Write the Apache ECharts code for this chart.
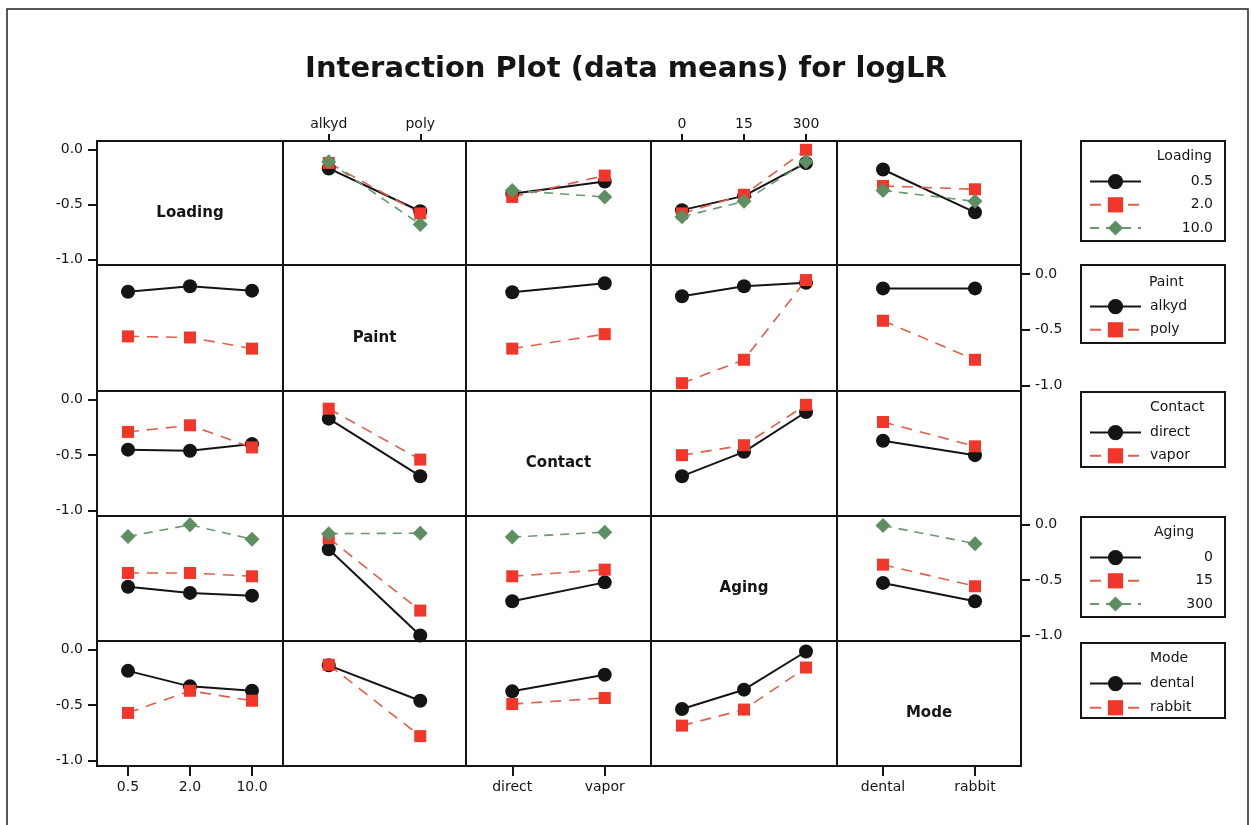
<!DOCTYPE html>
<html>
<head>
<meta charset="utf-8">
<script src="https://cdn.jsdelivr.net/npm/echarts@6/dist/echarts.min.js"></script>
<style>
html,body{margin:0;padding:0;background:#fff;}
#chart{width:1252px;height:825px;}
</style>
</head>
<body>
<div id="chart"></div>
<script>
// ---------- factors and levels ----------
const factors = ['Loading', 'Paint', 'Contact', 'Aging', 'Mode'];
const loadingLevels = ['0.5', '2.0', '10.0'];
const paintLevels = ['alkyd', 'poly'];
const contactLevels = ['direct', 'vapor'];
const agingLevels = ['0', '15', '300'];
const modeLevels = ['dental', 'rabbit'];
const yTickValues = [0, -0.5, -1.0];

// ---------- data means (rows = trace levels, columns = x levels) ----------
// trace Loading
const loadingByPaint   = [[-0.17, -0.56], [-0.12, -0.58], [-0.11, -0.68]];
const loadingByContact = [[-0.40, -0.29], [-0.43, -0.235], [-0.37, -0.43]];
const loadingByAging   = [[-0.55, -0.42, -0.12], [-0.58, -0.41, 0.0], [-0.61, -0.47, -0.11]];
const loadingByMode    = [[-0.18, -0.57], [-0.33, -0.36], [-0.37, -0.47]];
// trace Paint
const paintByLoading = [[-0.16, -0.11, -0.15], [-0.56, -0.57, -0.67]];
const paintByContact = [[-0.165, -0.084], [-0.67, -0.54]];
const paintByAging   = [[-0.20, -0.11, -0.08], [-0.98, -0.77, -0.055]];
const paintByMode    = [[-0.13, -0.13], [-0.42, -0.77]];
// trace Contact
const contactByLoading = [[-0.45, -0.46, -0.40], [-0.29, -0.23, -0.43]];
const contactByPaint   = [[-0.17, -0.69], [-0.08, -0.54]];
const contactByAging   = [[-0.69, -0.47, -0.11], [-0.50, -0.41, -0.045]];
const contactByMode    = [[-0.37, -0.50], [-0.20, -0.42]];
// trace Aging
const agingByLoading = [[-0.56, -0.615, -0.64], [-0.435, -0.435, -0.465], [-0.105, 0.0, -0.13]];
const agingByPaint   = [[-0.22, -1.0], [-0.12, -0.775], [-0.08, -0.075]];
const agingByContact = [[-0.69, -0.52], [-0.465, -0.405], [-0.11, -0.066]];
const agingByMode    = [[-0.525, -0.69], [-0.36, -0.555], [-0.006, -0.17]];
// trace Mode
const modeByLoading = [[-0.19, -0.33, -0.37], [-0.57, -0.37, -0.46]];
const modeByPaint   = [[-0.14, -0.46], [-0.135, -0.78]];
const modeByContact = [[-0.375, -0.225], [-0.49, -0.435]];
const modeByAging   = [[-0.535, -0.36, -0.015], [-0.685, -0.54, -0.16]];

// ---------- assembly ----------
const levels = { Loading: loadingLevels, Paint: paintLevels, Contact: contactLevels, Aging: agingLevels, Mode: modeLevels };
const panelData = {
  Loading: { Paint: loadingByPaint, Contact: loadingByContact, Aging: loadingByAging, Mode: loadingByMode },
  Paint:   { Loading: paintByLoading, Contact: paintByContact, Aging: paintByAging, Mode: paintByMode },
  Contact: { Loading: contactByLoading, Paint: contactByPaint, Aging: contactByAging, Mode: contactByMode },
  Aging:   { Loading: agingByLoading, Paint: agingByPaint, Contact: agingByContact, Mode: agingByMode },
  Mode:    { Loading: modeByLoading, Paint: modeByPaint, Contact: modeByContact, Aging: modeByAging }
};

const FONT = 'DejaVu Sans';
const colX = [97, 283, 466, 651, 837, 1021];
const rowY = [141, 265, 391, 516, 641, 766];

const styles = [
  { symbol: 'circle', size: 14, color: '#141414', line: '#141414', width: 2, type: 'solid' },
  { symbol: 'rect', size: 12, color: '#f2372a', line: '#e0604c', width: 1.6, type: [11, 8] },
  { symbol: 'diamond', size: 15, color: '#5e8f62', line: '#6a9870', width: 1.6, type: [9, 7] }
];

const grids = [], xAxes = [], yAxes = [], series = [], graphics = [];

for (let r = 0; r < 5; r++) {
  for (let c = 0; c < 5; c++) {
    const gi = grids.length;
    grids.push({
      left: colX[c], top: rowY[r], width: colX[c + 1] - colX[c], height: rowY[r + 1] - rowY[r],
      show: true, borderColor: '#151515', borderWidth: 2, backgroundColor: 'transparent'
    });
    const xf = factors[c], tf = factors[r];
    const showTop = (r === 0 && (c === 1 || c === 3));
    const showBottom = (r === 4 && (c === 0 || c === 2 || c === 4));
    xAxes.push({
      type: 'category', gridIndex: gi, data: levels[xf], boundaryGap: true,
      position: r === 0 ? 'top' : 'bottom',
      axisLine: { show: false, onZero: false },
      axisTick: { show: showTop || showBottom, inside: false, alignWithLabel: true, length: showTop ? 7 : 10, lineStyle: { color: '#151515', width: 2 } },
      axisLabel: { show: showTop || showBottom, margin: showTop ? 10 : 14, color: '#151515', fontSize: 14, fontFamily: FONT },
      splitLine: { show: false }
    });
    const leftAxis = (c === 0 && r % 2 === 0);
    const rightAxis = (c === 4 && r % 2 === 1);
    yAxes.push({
      type: 'value', gridIndex: gi, min: -1.05, max: 0.08,
      position: rightAxis ? 'right' : 'left',
      axisLine: { show: false, onZero: false },
      axisTick: { show: leftAxis || rightAxis, length: 9, customValues: yTickValues, lineStyle: { color: '#151515', width: 2 } },
      axisLabel: { show: leftAxis || rightAxis, customValues: yTickValues, margin: 14, color: '#151515', fontSize: 14, fontFamily: FONT,
        formatter: v => (v === 0 ? '0.0' : v.toFixed(1)) },
      splitLine: { show: false }
    });
    if (r === c) {
      graphics.push({
        type: 'text',
        x: (colX[c] + colX[c + 1]) / 2,
        y: (rowY[r] + rowY[r + 1]) / 2 + 10,
        style: { text: tf, fontSize: 15, fontWeight: 'bold', fontFamily: FONT, fill: '#151515', align: 'center', verticalAlign: 'middle' }
      });
      continue;
    }
    const values = panelData[tf][xf];
    levels[tf].forEach((lv, k) => {
      const s = styles[k];
      series.push({
        type: 'line', name: lv, xAxisIndex: gi, yAxisIndex: gi,
        data: values[k], symbol: s.symbol, symbolSize: s.size,
        itemStyle: { color: s.color },
        lineStyle: { color: s.line, width: s.width, type: s.type },
        silent: true, animation: false
      });
    });
  }
}

// ---------- legends ----------
const legendDefs = [
  { f: 'Loading', top: 141, h: 100, gap: 8, pad: [33, 13, 4, 8], align: 'right', title: { right: 40, top: 149 } },
  { f: 'Paint', top: 265, h: 78, gap: 8, pad: [34, 13, 4, 8], align: 'left', title: { left: 1149, top: 275 } },
  { f: 'Contact', top: 392, h: 75, gap: 8, pad: [33, 13, 4, 8], align: 'left', title: { left: 1150, top: 400 } },
  { f: 'Aging', top: 517, h: 100, gap: 8, pad: [33, 13, 4, 8], align: 'right', rp: 16, title: { left: 1154, top: 525 } },
  { f: 'Mode', top: 643, h: 75, gap: 9, pad: [33, 13, 4, 8], align: 'left', title: { left: 1150, top: 651 } }
];
const legends = legendDefs.map(d => ({
  show: true, orient: 'vertical', left: 1081, top: d.top,
  data: levels[d.f], selectedMode: false,
  itemWidth: 51, itemHeight: 19, itemGap: d.gap,
  padding: d.pad, borderWidth: 0,
  formatter: name => '{t|' + name + '}',
  textStyle: {
    fontSize: 14, fontFamily: FONT, color: '#151515',
    rich: { t: { width: 67, align: d.align, fontSize: 14, fontFamily: FONT, color: '#151515',
      padding: d.align === 'left' ? [0, 0, 0, 4] : [0, d.rp || 0, 0, 0] } }
  }
}));
legendDefs.forEach(d => {
  graphics.push({
    type: 'rect', shape: { x: 1081, y: d.top, width: 144, height: d.h },
    style: { fill: 'none', stroke: '#151515', lineWidth: 2 }, z: 5
  });
});
const titles = [{
  text: 'Interaction Plot (data means) for logLR', left: 'center', top: 55, padding: 0,
  textStyle: { fontSize: 29, fontWeight: 'bold', fontFamily: FONT, color: '#151515' }
}];
legendDefs.forEach(d => {
  titles.push(Object.assign({ text: d.f, padding: 0,
    textStyle: { fontSize: 14, fontWeight: 'normal', fontFamily: FONT, color: '#151515' } }, d.title));
});

graphics.push({
  type: 'rect', shape: { x: 7, y: 9, width: 1241, height: 840 },
  style: { fill: 'none', stroke: '#222', lineWidth: 1.5 }, z: -1
});

const chart = echarts.init(document.getElementById('chart'), null, { renderer: 'canvas' });
chart.setOption({
  animation: false,
  backgroundColor: '#fff',
  title: titles,
  legend: legends,
  grid: grids,
  xAxis: xAxes,
  yAxis: yAxes,
  series: series,
  graphic: graphics
});
</script>
</body>
</html>
